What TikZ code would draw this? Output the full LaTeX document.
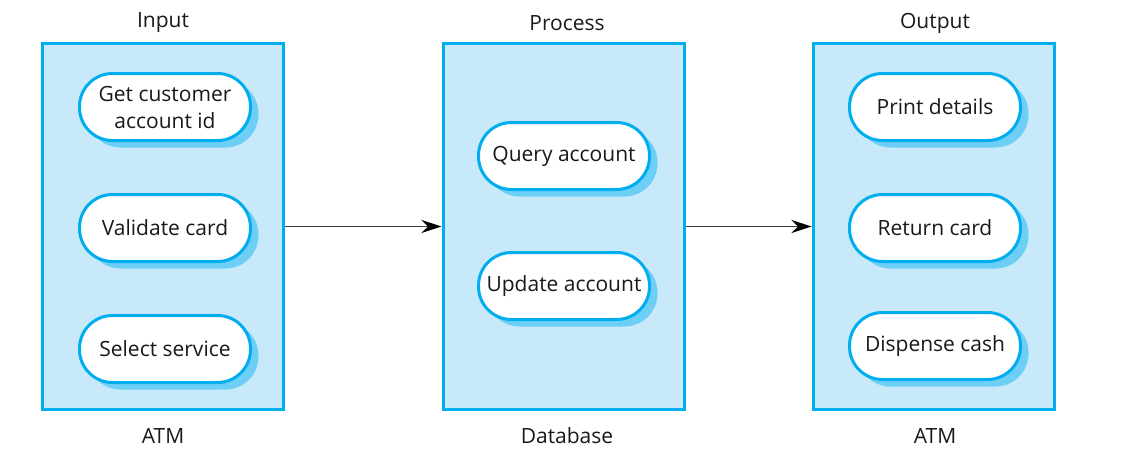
\documentclass[tikz,border=0pt]{standalone}
\usepackage{fontspec}
\setmainfont{Open Sans}
\usetikzlibrary{arrows.meta,shadows}
\definecolor{cyanb}{HTML}{00AEEF}
\definecolor{boxfill}{HTML}{C7E9FA}
\definecolor{shad}{HTML}{6DCFF6}
\definecolor{arrowgray}{HTML}{404040}
\begin{document}
\begin{tikzpicture}[x=1pt,y=-1pt,
  group/.style={draw=cyanb,fill=boxfill,line width=3pt,minimum width=241pt,minimum height=366pt,inner sep=0pt},
  pill/.style={draw=cyanb,fill=white,line width=3pt,rounded corners=33pt,minimum width=171pt,minimum height=67pt,
     align=center,font=\fontsize{21}{27}\selectfont,text=black!90,inner sep=2pt,
     drop shadow={shadow xshift=8pt,shadow yshift=-7pt,fill=shad,opacity=1}},
  lbl/.style={font=\fontsize{21}{25}\selectfont,text=black!90},
  conn/.style={draw=arrowgray,line width=1.3pt,-{Stealth[length=20pt,width=13pt,color=black]}}]
\useasboundingbox (0,0) rectangle (1145,453);
\node[group] (in) at (163,226.5) {};
\node[group] (pr) at (563.5,226.5) {};
\node[group] (out) at (933.5,226.5) {};
\node[lbl] (tin) at (163,23) {Input};
\node[lbl] (tpr) at (567,23) {Process};
\node[lbl] (tout) at (935,23) {Output};
\node[lbl] (bin) at (163,436) {ATM};
\node[lbl] (bpr) at (567,436) {Database};
\node[lbl] (bout) at (935,436) {ATM};
\node[pill] (p1) at (165,107) {Get customer\\account id};
\node[pill] (p2) at (165,228) {Validate card};
\node[pill] (p3) at (165,349) {Select service};
\node[pill] (q1) at (564,156) {Query account};
\node[pill] (q2) at (564,286) {Update account};
\node[pill] (r1) at (935,107) {Print details};
\node[pill] (r2) at (935,228) {Return card};
\node[pill] (r3) at (935,346) {Dispense cash};
\draw[conn] (in.east) -- (pr.west);
\draw[conn] (pr.east) -- (out.west);
\end{tikzpicture}
\end{document}
